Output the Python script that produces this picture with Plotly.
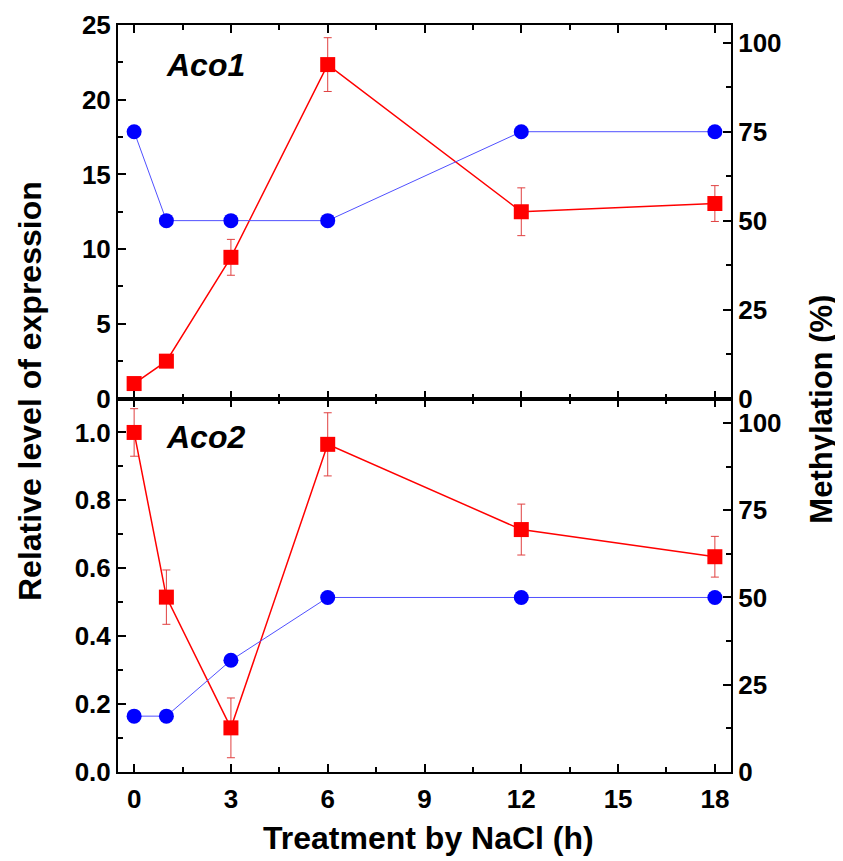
import plotly.graph_objects as go

# ---- data ----
hours = [0, 1, 3, 6, 12, 18]

aco1_expr = [1.0, 2.5, 9.45, 22.35, 12.5, 13.05]
aco1_err = [0.3, 0.3, 1.2, 1.8, 1.6, 1.2]
aco1_meth = [75, 50, 50, 50, 75, 75]

aco2_expr = [1.0, 0.515, 0.13, 0.965, 0.714, 0.634]
aco2_err = [0.07, 0.08, 0.088, 0.093, 0.075, 0.06]
aco2_meth = [16, 16, 32, 50, 50, 50]

x_ticks = [0, 3, 6, 9, 12, 15, 18]

FONT = "Liberation Sans, Arial, sans-serif"
RED = "#ff0000"
BLUE = "#0000ff"
LINEBLUE = "#5050ff"

fig = go.Figure()

def expr_trace(y, err, xa, ya):
    return go.Scatter(
        x=hours, y=y, xaxis=xa, yaxis=ya, mode="lines+markers",
        line=dict(color=RED, width=1.5),
        marker=dict(symbol="square", size=15, color=RED),
        error_y=dict(type="data", array=err, visible=True, color="#e04040",
                     thickness=1, width=4),
        showlegend=False, cliponaxis=False,
    )

def meth_trace(y, xa, ya):
    return go.Scatter(
        x=hours, y=y, xaxis=xa, yaxis=ya, mode="lines+markers",
        line=dict(color=LINEBLUE, width=1),
        marker=dict(symbol="circle", size=15, color=BLUE),
        showlegend=False, cliponaxis=False,
    )

# bottom panel (Aco2)
fig.add_trace(expr_trace(aco2_expr, aco2_err, "x", "y"))
fig.add_trace(meth_trace(aco2_meth, "x", "y2"))
# top panel (Aco1)
fig.add_trace(expr_trace(aco1_expr, aco1_err, "x2", "y3"))
fig.add_trace(meth_trace(aco1_meth, "x2", "y4"))

tickfont = dict(family=FONT, size=26, color="black", weight="bold")

def xax(show_labels, anchor):
    return dict(
        domain=[0, 1], anchor=anchor, range=[-0.5, 18.5],
        tickmode="array", tickvals=x_ticks, showticklabels=show_labels,
        ticks="inside", ticklen=8, tickwidth=2, tickcolor="black",
        minor=dict(dtick=1.5, tick0=0, ticks="inside", ticklen=5, tickwidth=2, tickcolor="black"),
        showline=True, linewidth=2, linecolor="black", mirror="ticks",
        showgrid=False, zeroline=False, tickfont=tickfont,
        ticklabelstandoff=3,
    )

def yax(domain, rng, dtick, minor, side="left", overlaying=None, anchor="x", fmt=None):
    d = dict(
        range=rng, tick0=0, dtick=dtick, side=side, anchor=anchor,
        ticks="inside", ticklen=8, tickwidth=2, tickcolor="black",
        minor=dict(dtick=minor, tick0=0, ticks="inside", ticklen=5, tickwidth=2, tickcolor="black"),
        showline=True, linewidth=2, linecolor="black",
        showgrid=False, zeroline=False, tickfont=tickfont,
        ticklabelstandoff=0,
    )
    if overlaying:
        d["overlaying"] = overlaying
    else:
        d["domain"] = domain
    if fmt:
        d["tickformat"] = fmt
    return d

fig.update_layout(
    width=835, height=853,
    margin=dict(l=110, r=112, t=17, b=89, autoexpand=False),
    paper_bgcolor="white", plot_bgcolor="white",
    font=dict(family=FONT, color="black"),
    xaxis=xax(True, "y"),
    xaxis2=xax(False, "y3"),
    yaxis=yax([0, 0.5], [0, 1.1], 0.2, 0.1, fmt=".1f"),
    yaxis2=yax(None, [0, 107], 25, 12.5, side="right", overlaying="y"),
    yaxis3=yax([0.5, 1], [0, 25], 5, 2.5, anchor="x2"),
    yaxis4=yax(None, [0, 105], 25, 12.5, side="right", overlaying="y3", anchor="x2"),
)

annots = [
    dict(text="<b><i>Aco1</i></b>", x=0.142, y=0.946, font=dict(size=32)),
    dict(text="<b><i>Aco2</i></b>", x=0.142, y=0.448, font=dict(size=32)),
    dict(text="<b>Relative level of expression</b>", x=-0.1436, y=0.51,
         textangle=-90, font=dict(size=32)),
    dict(text="<b>Methylation (%)</b>", x=1.148, y=0.486,
         textangle=-90, font=dict(size=31)),
    dict(text="<b>Treatment by NaCl (h)</b>", x=0.507, y=-0.088,
         font=dict(size=32)),
]
for a in annots:
    a.update(xref="paper", yref="paper", showarrow=False,
             xanchor="center", yanchor="middle")
    a["font"].update(family=FONT, color="black")
fig.update_layout(annotations=annots)

fig.write_html("out.html")
